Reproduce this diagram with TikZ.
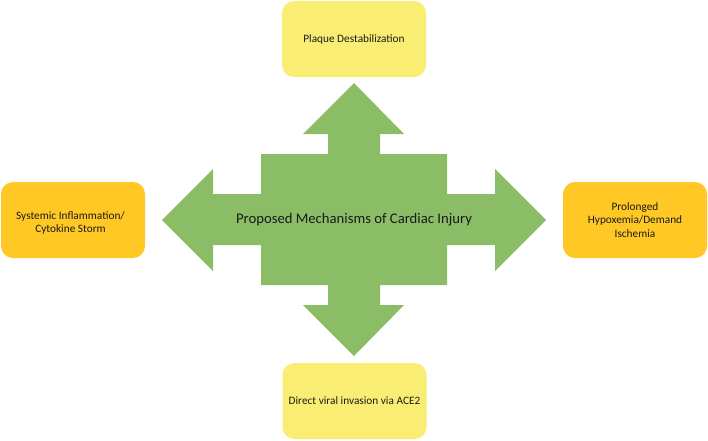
\documentclass[tikz,border=0pt]{standalone}
\usepackage{fontspec}
\setmainfont{Carlito}
\definecolor{arrowgreen}{HTML}{8BBD67}
\definecolor{boxyellow}{HTML}{F9EE73}
\definecolor{boxorange}{HTML}{FFC824}
\definecolor{txt}{HTML}{1A1A1A}
\tikzset{
  mechbox/.style={rounded corners=12pt, minimum width=144pt, minimum height=76pt,
    align=center, font=\fontsize{11.3}{13.8}\selectfont, text=txt, inner sep=2pt},
  yellowbox/.style={mechbox, fill=boxyellow},
  orangebox/.style={mechbox, fill=boxorange},
}
\begin{document}
\begin{tikzpicture}[x=1pt,y=-1pt]
\useasboundingbox (0,0) rectangle (708,440);
% four-way arrow
\fill[arrowgreen] (354,83) -- (404,134) -- (380,134) -- (380,154) -- (447,154)
  -- (447,194) -- (495,194) -- (495,169) -- (546,220) -- (495,271) -- (495,245)
  -- (447,245) -- (447,285) -- (380,285) -- (380,305) -- (404,305) -- (354,356)
  -- (303,305) -- (328,305) -- (328,285) -- (261,285) -- (261,245) -- (213,245)
  -- (213,271) -- (162,220) -- (213,169) -- (213,194) -- (261,194) -- (261,154)
  -- (328,154) -- (328,134) -- (303,134) -- cycle;
\node[font=\fontsize{14.7}{17}\selectfont, text=txt] (center) at (354,220) {Proposed Mechanisms of Cardiac Injury};
\node[yellowbox] (top) at (354,39) {Plaque Destabilization};
\node[yellowbox] (bottom) at (354.5,401) {Direct viral invasion via ACE2};
\node[orangebox] (left) at (73,220) {};
\node[align=center, font=\fontsize{11.3}{13.8}\selectfont, text=txt] (lefttext) at (70.5,223) {Systemic Inflammation/\\Cytokine Storm};
\node[orangebox] (right) at (635,220) {Prolonged\\Hypoxemia/Demand\\Ischemia};
\end{tikzpicture}
\end{document}
